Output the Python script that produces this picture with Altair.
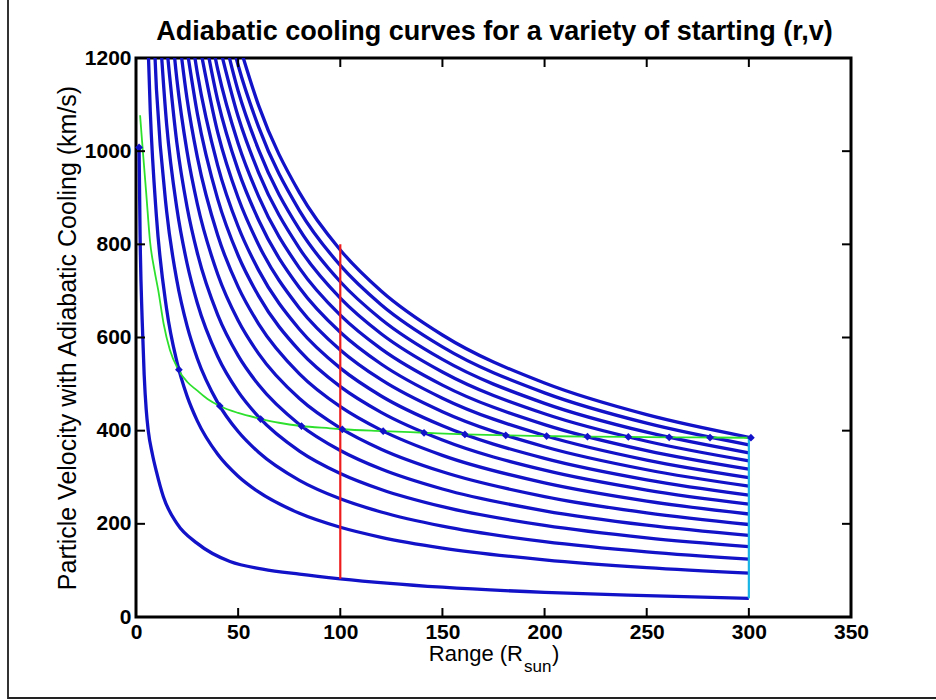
import altair as alt
import pandas as pd

# ---------------- data ----------------
# each blue curve passes through one green marker and runs to r = 300
R_GRID = [300, 250, 200, 150, 120, 100, 80, 60, 50, 40, 30, 25, 20, 15, 10, 7, 5]

V_301 = [385.8, 434.3, 502.2, 605.4, 699.9, 787.9, 910.9, 1098.3, 1236.4]
V_281 = [369.6, 416.0, 481.1, 579.9, 670.4, 754.7, 872.5, 1052.1, 1184.3, 1369.2]
V_261 = [352.4, 396.7, 458.7, 553.0, 639.3, 719.7, 832.0, 1003.2, 1129.3, 1305.5]
V_241 = [335.2, 377.3, 436.3, 526.0, 608.1, 684.5, 791.4, 954.2, 1074.2, 1241.9]
V_221 = [317.2, 357.1, 413.0, 497.8, 575.5, 647.9, 749.0, 903.1, 1016.7, 1175.5, 1417.2]
V_201 = [299.3, 337.0, 389.7, 469.7, 543.1, 611.3, 706.8, 852.2, 959.3, 1109.1, 1337.1]
V_181 = [280.8, 316.1, 365.5, 440.6, 509.4, 573.4, 663.0, 799.3, 899.9, 1040.3, 1254.2]
V_161 = [261.6, 294.5, 340.5, 410.5, 474.5, 534.2, 617.6, 744.6, 838.3, 969.1, 1168.4, 1315.4]
V_141 = [242.1, 272.6, 315.2, 379.9, 439.3, 494.5, 571.7, 689.3, 776.0, 897.0, 1081.5, 1217.6]
V_121 = [221.1, 248.9, 287.9, 347.0, 401.2, 451.6, 522.1, 629.5, 708.7, 819.4, 987.8, 1112.1, 1285.8]
V_101 = [198.6, 223.6, 258.5, 311.7, 360.3, 405.6, 468.9, 565.4, 636.5, 735.8, 887.1, 998.6, 1154.5, 1391.8]
V_081 = [175.1, 197.1, 227.9, 274.7, 317.6, 357.5, 413.4, 498.4, 561.1, 648.6, 781.9, 880.3, 1017.8, 1226.9]
V_061 = [150.9, 169.9, 196.5, 236.8, 273.8, 308.2, 356.3, 429.7, 483.7, 559.1, 674.1, 758.9, 877.4, 1057.7, 1376.8]
V_041 = [124.2, 139.8, 161.7, 194.9, 225.4, 253.7, 293.3, 353.6, 398.1, 460.3, 555.0, 624.8, 722.3, 870.8, 1133.4, 1429.2]
V_021 = [94.3, 106.1, 122.7, 148.0, 171.1, 192.6, 222.6, 268.4, 302.2, 349.3, 421.1, 474.1, 548.1, 660.8, 860.0, 1084.5, 1349.6]

BOTTOM_R = [1.5, 2, 3, 4, 5, 6, 8, 10, 13.4, 20, 30, 46, 62, 80, 100, 150, 200, 250, 300]
BOTTOM_V = [1008, 820, 640, 520, 445, 400, 350, 312, 258, 201, 158, 119, 103, 92, 82, 64, 53, 46, 40]

GREEN_R = [2, 3, 4, 5, 6.9, 9, 10.9, 13.5, 16.6, 20.7, 25, 29.7, 35, 41, 50, 61.5, 70, 80.8, 95,
           101, 121, 141, 161, 181, 201, 221, 241, 261, 281, 301]
GREEN_V = [1077, 1020, 965, 910, 805, 745, 701, 630, 573, 531, 505, 487, 468, 453, 438, 425, 417, 410, 405,
           403, 399, 395.5, 392, 390, 388.4, 387, 386.5, 385.8, 385.3, 384.8]

MARK_R = [1.5, 21, 41, 61, 81, 101, 121, 141, 161, 181, 201, 221, 241, 261, 281, 301]
MARK_V = [1008, 531, 453, 425, 410, 403, 399, 395.5, 392, 390, 388.4, 387, 386.5, 385.8, 385.3, 384.8]

RED_R = [100]
RED_V0 = [82]
RED_V1 = [800]
CYAN_R = [300]
CYAN_V0 = [40]
CYAN_V1 = [385]

X_TICKS = [0, 50, 100, 150, 200, 250, 300, 350]
Y_TICKS = [0, 200, 400, 600, 800, 1000, 1200]

TITLE = "Adiabatic cooling curves for a variety of starting (r,v)"
Y_TITLE = "Particle Velocity with Adiabatic Cooling (km/s)"

# ---------------- build tables ----------------
rows = []
named = [("301", V_301), ("281", V_281), ("261", V_261), ("241", V_241), ("221", V_221),
         ("201", V_201), ("181", V_181), ("161", V_161), ("141", V_141), ("121", V_121),
         ("101", V_101), ("081", V_081), ("061", V_061), ("041", V_041), ("021", V_021)]
for name, vals in named:
    for r, v in zip(R_GRID, vals):
        rows.append({"curve": name, "r": r, "v": v})
for r, v in zip(BOTTOM_R, BOTTOM_V):
    rows.append({"curve": "001", "r": r, "v": v})
curves = pd.DataFrame(rows)

green = pd.DataFrame({"r": GREEN_R, "v": GREEN_V})
marks = pd.DataFrame({"r": MARK_R, "v": MARK_V})
red = pd.DataFrame({"r": RED_R, "v0": RED_V0, "v1": RED_V1})
cyan = pd.DataFrame({"r": CYAN_R, "v0": CYAN_V0, "v1": CYAN_V1})
xt = pd.DataFrame({"r": X_TICKS})
yt = pd.DataFrame({"v": Y_TICKS})

W, H = 715, 559
FONT = "Liberation Sans"
BLUE = "#1212c8"

xs = alt.Scale(domain=[0, 350], nice=False, zero=False)
ys = alt.Scale(domain=[0, 1200], nice=False, zero=False)

x_axis = alt.Axis(values=X_TICKS, ticks=False, domain=False, grid=False, title=None, format="d",
                  labelFont=FONT, labelFontWeight="bold", labelFontSize=21, labelColor="black",
                  labelPadding=4, labelFlush=False)
y_axis = alt.Axis(values=Y_TICKS, ticks=False, domain=False, grid=False, title=Y_TITLE, format="d",
                  labelFont=FONT, labelFontWeight="bold", labelFontSize=21, labelColor="black",
                  labelPadding=5, labelFlush=False,
                  titleFont=FONT, titleFontSize=25, titleFontWeight="normal", titleColor="black",
                  titlePadding=4)

blue = alt.Chart(curves).mark_line(color=BLUE, strokeWidth=3.3, clip=True, interpolate="monotone").encode(
    x=alt.X("r:Q", scale=xs, axis=x_axis),
    y=alt.Y("v:Q", scale=ys, axis=y_axis),
    detail="curve:N",
    order="r:Q",
)

green_line = alt.Chart(green).mark_line(color="#2ee02e", strokeWidth=1.8, clip=True, interpolate="monotone").encode(
    x=alt.X("r:Q", scale=xs),
    y=alt.Y("v:Q", scale=ys),
    order="r:Q",
)

red_line = alt.Chart(red).mark_rule(color="#ee1c1c", strokeWidth=2.2).encode(
    x=alt.X("r:Q", scale=xs),
    y=alt.Y("v0:Q", scale=ys),
    y2="v1:Q",
)

cyan_line = alt.Chart(cyan).mark_rule(color="#18b4e6", strokeWidth=2.2).encode(
    x=alt.X("r:Q", scale=xs),
    y=alt.Y("v0:Q", scale=ys),
    y2="v1:Q",
)

points = alt.Chart(marks).mark_point(shape="diamond", filled=True, color=BLUE, size=60, opacity=1).encode(
    x=alt.X("r:Q", scale=xs),
    y=alt.Y("v:Q", scale=ys),
)

tk = dict(color="black", strokeWidth=2)
t_bottom = alt.Chart(xt).mark_rule(**tk).encode(x=alt.X("r:Q", scale=xs), y=alt.value(H), y2=alt.value(H - 9))
t_top = alt.Chart(xt).mark_rule(**tk).encode(x=alt.X("r:Q", scale=xs), y=alt.value(0), y2=alt.value(9))
t_left = alt.Chart(yt).mark_rule(**tk).encode(y=alt.Y("v:Q", scale=ys), x=alt.value(0), x2=alt.value(9))
t_right = alt.Chart(yt).mark_rule(**tk).encode(y=alt.Y("v:Q", scale=ys), x=alt.value(W), x2=alt.value(W - 9))

# chart title (as text so that it sits exactly above the plot)
title_txt = alt.Chart(pd.DataFrame({"s": [TITLE]})).mark_text(
    font=FONT, fontSize=27, fontWeight="bold", align="center", baseline="alphabetic", color="black"
).encode(text="s:N", x=alt.value(W / 2 + 1), y=alt.value(-18))

# x-axis title with subscript
xt1 = alt.Chart(pd.DataFrame({"s": ["Range (R"]})).mark_text(
    font=FONT, fontSize=22, align="right", baseline="alphabetic", color="black"
).encode(text="s:N", x=alt.value(387), y=alt.value(603))
xt2 = alt.Chart(pd.DataFrame({"s": ["sun"]})).mark_text(
    font=FONT, fontSize=17, align="left", baseline="alphabetic", color="black"
).encode(text="s:N", x=alt.value(388), y=alt.value(614))
xt3 = alt.Chart(pd.DataFrame({"s": [")"]})).mark_text(
    font=FONT, fontSize=22, align="left", baseline="alphabetic", color="black"
).encode(text="s:N", x=alt.value(416), y=alt.value(603))

# outer figure frame (left and bottom edges visible in the reference)
frame_l = alt.Chart(pd.DataFrame({"a": [0]})).mark_rule(color="#333333", strokeWidth=2).encode(
    x=alt.value(-128), y=alt.value(-58), y2=alt.value(641))
frame_b = alt.Chart(pd.DataFrame({"a": [0]})).mark_rule(color="#222222", strokeWidth=2).encode(
    x=alt.value(-128), x2=alt.value(800), y=alt.value(640))

chart = alt.layer(
    blue, green_line, red_line, cyan_line, points,
    t_bottom, t_top, t_left, t_right, title_txt, xt1, xt2, xt3, frame_l, frame_b,
).properties(
    width=W, height=H,
    background="white",
    autosize=alt.AutoSizeParams(type="none"),
    padding={"left": 136, "top": 58, "right": 85, "bottom": 83},
).configure_view(stroke="black", strokeWidth=3)

chart.save("out.html", embed_options={"renderer": "svg", "actions": False})
